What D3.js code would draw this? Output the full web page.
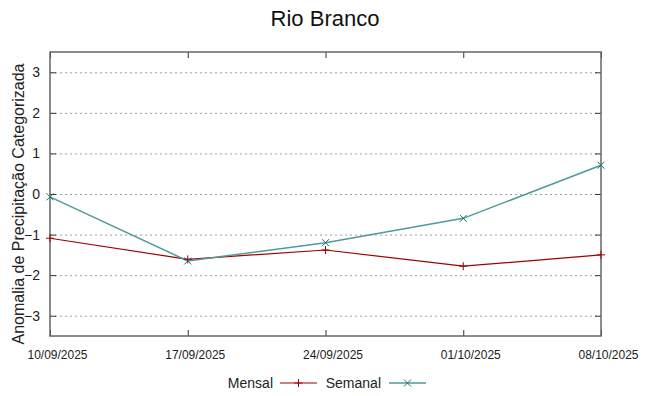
<!DOCTYPE html>
<html><head><meta charset="utf-8">
<script src="https://cdn.jsdelivr.net/npm/d3@7"></script>
<style>body{margin:0;background:#fff}text{font-family:"Liberation Sans",Arial,sans-serif}</style>
</head><body><svg id="c" width="649" height="396"></svg>
<script>
const dates = ["10/09/2025","17/09/2025","24/09/2025","01/10/2025","08/10/2025"];
const mensal = [-1.09, -1.61, -1.38, -1.78, -1.5];
const semanal = [-0.07, -1.65, -1.2, -0.6, 0.71];
const yTicks = [-3,-2,-1,0,1,2,3];
const title = "Rio Branco";
const yLabel = "Anomalia de Precipitação Categorizada";

const svg = d3.select("#c");
const L=50,R=601,T=52,B=336;
const x = d3.scalePoint().domain(dates).range([L,R]);
const y = d3.scaleLinear().domain([-3.5,3.5]).range([B,T]);

svg.append("text").attr("x",325).attr("y",26).attr("text-anchor","middle").attr("font-size",22).attr("fill","#111").text(title);

// grid
svg.append("g").selectAll("line").data(yTicks).join("line")
 .attr("x1",L).attr("x2",R).attr("y1",d=>y(d)+0.5).attr("y2",d=>y(d)+0.5)
 .attr("stroke","#a0a0a0").attr("stroke-dasharray","2,3").attr("stroke-width",1);

// axes
const gl = svg.append("g").attr("transform",`translate(${L},0)`).call(d3.axisLeft(y).tickValues(yTicks).tickSize(-6).tickPadding(10).tickFormat(d3.format("d")));
const gr = svg.append("g").attr("transform",`translate(${R},0)`).call(d3.axisRight(y).tickValues(yTicks).tickSize(-6).tickFormat(""));
const gb = svg.append("g").attr("transform",`translate(0,${B})`).call(d3.axisBottom(x).tickSize(-6).tickPadding(14));
const gt = svg.append("g").attr("transform",`translate(0,${T})`).call(d3.axisTop(x).tickSize(-6).tickFormat(""));
[gl,gr,gb,gt].forEach(g=>{g.select(".domain").remove();g.selectAll(".tick line").attr("stroke","#333");});
gl.selectAll("text").attr("font-size",14).attr("fill","#222").attr("font-family","Liberation Sans");
gb.selectAll("text").attr("font-size",12).attr("fill","#222").attr("dx",7).attr("font-family","Liberation Sans");
svg.append("rect").attr("x",L).attr("y",T).attr("width",R-L).attr("height",B-T).attr("fill","none").attr("stroke","#666").attr("stroke-width",1.5);

svg.append("text").attr("transform",`translate(24,${(T+B)/2+10}) rotate(-90)`).attr("text-anchor","middle").attr("font-size",16).attr("fill","#222").text(yLabel);

const line = d3.line().x((d,i)=>x(dates[i])).y(d=>y(d));
const cM="#a00000", cS="#4f9a9a", cSm="#1f6f6f";
svg.append("path").datum(mensal).attr("d",line).attr("fill","none").attr("stroke",cM).attr("stroke-width",1.2);
svg.append("path").datum(semanal).attr("d",line).attr("fill","none").attr("stroke",cS).attr("stroke-width",1.5);
const plus=(g,cx,cy,c)=>{g.append("path").attr("d",`M${cx-4},${cy}H${cx+4}M${cx},${cy-4}V${cy+4}`).attr("stroke",c).attr("stroke-width",1);};
const cross=(g,cx,cy,c)=>{g.append("path").attr("d",`M${cx-3.5},${cy-3.5}L${cx+3.5},${cy+3.5}M${cx-3.5},${cy+3.5}L${cx+3.5},${cy-3.5}`).attr("stroke",c).attr("stroke-width",1);};
const gm=svg.append("g");
mensal.forEach((v,i)=>plus(gm,x(dates[i]),y(v),cM));
semanal.forEach((v,i)=>cross(gm,x(dates[i]),y(v),cSm));

// legend
svg.append("text").attr("x",273).attr("y",388).attr("text-anchor","end").attr("font-size",14).attr("fill","#222").text("Mensal");
svg.append("line").attr("x1",280).attr("x2",317).attr("y1",383).attr("y2",383).attr("stroke",cM).attr("stroke-width",1.2);
plus(svg,298.5,383,cM);
svg.append("text").attr("x",381).attr("y",388).attr("text-anchor","end").attr("font-size",14).attr("fill","#222").text("Semanal");
svg.append("line").attr("x1",389).attr("x2",426).attr("y1",383).attr("y2",383).attr("stroke",cS).attr("stroke-width",1.5);
cross(svg,407.5,383,cSm);
</script></body></html>
